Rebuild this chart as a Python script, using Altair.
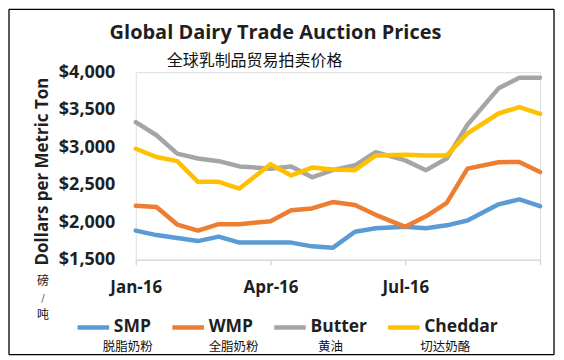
import altair as alt
import pandas as pd

# ---- data ----
dates = ["2016-01-05", "2016-01-19", "2016-02-02", "2016-02-16", "2016-03-01", "2016-03-15",
         "2016-04-05", "2016-04-19", "2016-05-03", "2016-05-17", "2016-06-01", "2016-06-15",
         "2016-07-05", "2016-07-19", "2016-08-02", "2016-08-16", "2016-09-06", "2016-09-20",
         "2016-10-04"]
smp = [1890, 1830, 1790, 1750, 1810, 1730, 1730, 1730, 1680, 1660, 1875, 1920, 1940, 1920,
       1960, 2025, 2240, 2305, 2215]
wmp = [2220, 2205, 1970, 1890, 1975, 1975, 2015, 2160, 2185, 2270, 2230, 2100, 1940, 2080,
       2260, 2715, 2800, 2805, 2670]
butter = [3335, 3160, 2915, 2850, 2815, 2745, 2715, 2745, 2600, 2695, 2760, 2935, 2825, 2695,
          2850, 3300, 3785, 3925, 3925]
cheddar = [2980, 2870, 2815, 2540, 2540, 2450, 2775, 2625, 2730, 2705, 2695, 2890, 2900, 2890,
           2890, 3185, 3450, 3535, 3445]

series_names = ["SMP", "WMP", "Butter", "Cheddar"]
series_cn = ["脱脂奶粉", "全脂奶粉", "黄油", "切达奶酪"]
series_colors = ["#5B9BD5", "#ED7D31", "#A5A5A5", "#FFC000"]
y_ticks = [1500, 2000, 2500, 3000, 3500, 4000]

title_text = "Global Dairy Trade Auction Prices"
subtitle_text = "全球乳制品贸易拍卖价格"
y_title = "Dollars per Metric Ton"
unit_chars = ["磅", "/", "吨"]

rows = []
for name, vals in zip(series_names, [smp, wmp, butter, cheddar]):
    for d, v in zip(dates, vals):
        rows.append({"date": d, "price": v, "series": name})
df = pd.DataFrame(rows)

FONT = "Open Sans"
CJK = "Noto Sans CJK SC"
TXT = "#1f1f1f"


def dt(m, d):
    return alt.DateTime(year=2016, month=m, date=d, utc=True)


lines = alt.Chart(df).mark_line(strokeWidth=4.5, strokeJoin="round", strokeCap="round").encode(
    x=alt.X("date:T",
            scale=alt.Scale(type="utc", domain=[dt(1, 5), dt(10, 4)]),
            axis=alt.Axis(values=[dt(1, 5), dt(4, 5), dt(7, 5), dt(10, 4)],
                          labelExpr="utcmonth(datum.value) == 9 ? '' : utcFormat(datum.value, '%b-%y')",
                          title=None, grid=False,
                          domainColor="#d9d9d9", domainWidth=1.5,
                          tickColor="#d9d9d9", tickWidth=1.5, tickSize=5,
                          labelFont=FONT, labelFontWeight="bold", labelFontSize=17,
                          labelColor=TXT, labelPadding=15, labelFlush=False)),
    y=alt.Y("price:Q",
            scale=alt.Scale(domain=[1500, 4000], nice=False, zero=False),
            axis=alt.Axis(values=y_ticks, format="$,.0f", grid=False, domain=False,
                          ticks=False, labelPadding=21,
                          labelFont=FONT, labelFontWeight="bold", labelFontSize=18,
                          labelColor=TXT,
                          title=y_title, titleFont=FONT, titleFontWeight="bold",
                          titleFontSize=17, titleColor=TXT, titleX=-93, titleY=99,
                          titleAngle=270, titleAlign="center", titleBaseline="middle")),
    color=alt.Color("series:N",
                    scale=alt.Scale(domain=series_names, range=series_colors),
                    legend=alt.Legend(orient="none", legendX=-61, legendY=237,
                                      direction="horizontal", title=None,
                                      symbolType="stroke", symbolSize=1000,
                                      symbolStrokeWidth=4.5, labelOffset=2,
                                      columnPadding=11, padding=0,
                                      labelFont=FONT, labelFontWeight="bold",
                                      labelFontSize=17.5, labelColor=TXT)),
)

one = alt.Data(values=[{"k": 1}])


def txt(text, x, y, font, size, weight="normal", color="#111"):
    return alt.Chart(one).mark_text(text=text, font=font, fontSize=size, fontWeight=weight,
                                    color=color, align="center", baseline="middle").encode(
        x=alt.value(x), y=alt.value(y))


title = txt(title_text, 140, -39, FONT, 20, "bold", TXT)
subtitle = txt(subtitle_text, 119, -11, CJK, 16)
unit = [txt(c, -93, y, CJK, s) for c, y, s in zip(unit_chars, [209, 226, 243], [12, 9, 12])]
cap_x = [-8, 98, 195, 310]
captions = [txt(t, px, 275.5, CJK, 12.5) for t, px in zip(series_cn, cap_x)]


def rule(x1, x2, y1, y2):
    return alt.Chart(one).mark_rule(color="#000", strokeWidth=1.3).encode(
        x=alt.value(x1), x2=alt.value(x2), y=alt.value(y1), y2=alt.value(y2))


L, R, T, B = -127, 419, -63, 283
border = [rule(L, R, T, T), rule(L, R, B, B), rule(L, L, T, B), rule(R, R, T, B)]

chart = alt.layer(*border, lines, title, subtitle, *unit, *captions).properties(
    width=405, height=188,
    autosize=alt.AutoSizeParams(type="none"),
    padding={"left": 128, "top": 64, "right": 16, "bottom": 96},
).configure_view(stroke=None).configure(background="white")

chart.save("out.html", embed_options={"renderer": "svg", "actions": False})
